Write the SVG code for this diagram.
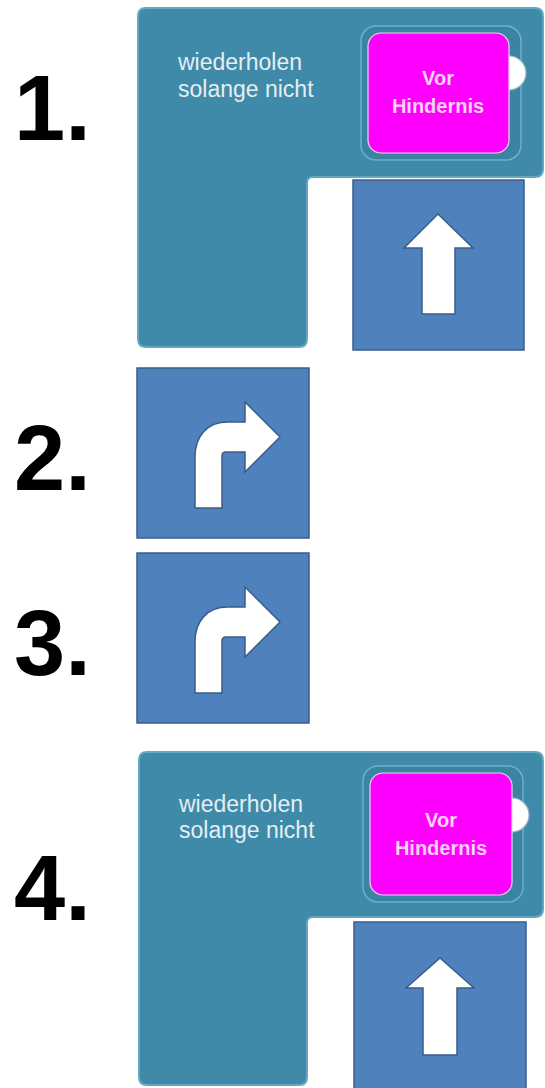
<svg xmlns="http://www.w3.org/2000/svg" width="545" height="1088" viewBox="0 0 545 1088">
<style>
.num{font-family:"Liberation Sans",Arial,sans-serif;font-weight:bold;font-size:92px;fill:#000}
.lbl{font-family:"Liberation Sans",Arial,sans-serif;font-size:23px;fill:#e4eef3}
.cond{font-family:"Liberation Sans",Arial,sans-serif;font-weight:bold;font-size:20px;fill:#fbd2f6;text-anchor:middle}
.loop{fill:#3f8aa9;stroke:#63a7c2;stroke-width:2}
.slot{fill:#3a84a2;stroke:#6bb0c9;stroke-width:1.5}
.mag{fill:#ff00ff;stroke:#e9d6ef;stroke-width:1.2}
.bump{fill:#ffffff;stroke:#9ab6c4;stroke-width:1.2}
.sq{fill:#4f81bd;stroke:#385d8a;stroke-width:1.5}
.arr{fill:#ffffff;stroke:#385d8a;stroke-width:1.5;stroke-linejoin:miter}
</style>
<rect width="545" height="1088" fill="#ffffff"/>

<g id="n1">
<text class="num" x="14" y="140">1.</text>
<path class="loop" d="M146,8 H535 Q543,8 543,16 V169 Q543,177 535,177 H313 Q307,177 307,183 V339 Q307,347 299,347 H146 Q138,347 138,339 V16 Q138,8 146,8 Z"/>
<text class="lbl" x="178" y="70">wiederholen</text>
<text class="lbl" x="178" y="97">solange nicht</text>
<rect class="slot" x="361" y="26" width="160" height="134" rx="15"/>
<circle class="bump" cx="509" cy="73" r="17"/>
<rect class="mag" x="368" y="33" width="141" height="120" rx="13"/>
<text class="cond" x="438" y="85">Vor</text>
<text class="cond" x="438" y="113">Hindernis</text>
</g>

<g id="n1b">
<rect class="sq" x="353" y="180" width="171" height="170"/>
<path class="arr" d="M438,214 L473,248 L455,248 L455,314 L422,314 L422,248 L404,248 Z"/>
</g>

<g id="n2">
<text class="num" x="14" y="490">2.</text>
<rect class="sq" x="137" y="368" width="172" height="170"/>
<path class="arr" d="M195,508 L195,457 C195,436 207,422 228,422 L245,422 L245,402 L280,437 L245,472 L245,452 L226,452 Q222,452 222,456 L222,508 Z"/>
</g>

<g id="n3">
<text class="num" x="14" y="675">3.</text>
<rect class="sq" x="137" y="553" width="172" height="170"/>
<path class="arr" d="M195,693 L195,642 C195,621 207,607 228,607 L245,607 L245,587 L280,622 L245,657 L245,637 L226,637 Q222,637 222,641 L222,693 Z"/>
</g>

<g id="n4">
<text class="num" x="14" y="920">4.</text>
<path class="loop" d="M147,752 H535 Q543,752 543,760 V909 Q543,917 535,917 H313 Q307,917 307,923 V1077 Q307,1085 299,1085 H147 Q139,1085 139,1077 V760 Q139,752 147,752 Z"/>
<text class="lbl" x="179" y="812">wiederholen</text>
<text class="lbl" x="179" y="838">solange nicht</text>
<rect class="slot" x="363" y="766" width="160" height="136" rx="15"/>
<circle class="bump" cx="512" cy="815" r="17"/>
<rect class="mag" x="370" y="773" width="142" height="122" rx="13"/>
<text class="cond" x="441" y="827">Vor</text>
<text class="cond" x="441" y="855">Hindernis</text>
</g>

<g id="n4b">
<rect class="sq" x="354" y="922" width="172" height="172"/>
<path class="arr" d="M440,958 L474,988 L457,988 L457,1055 L423,1055 L423,988 L406,988 Z"/>
</g>

<g id="connectors"></g>
</svg>
